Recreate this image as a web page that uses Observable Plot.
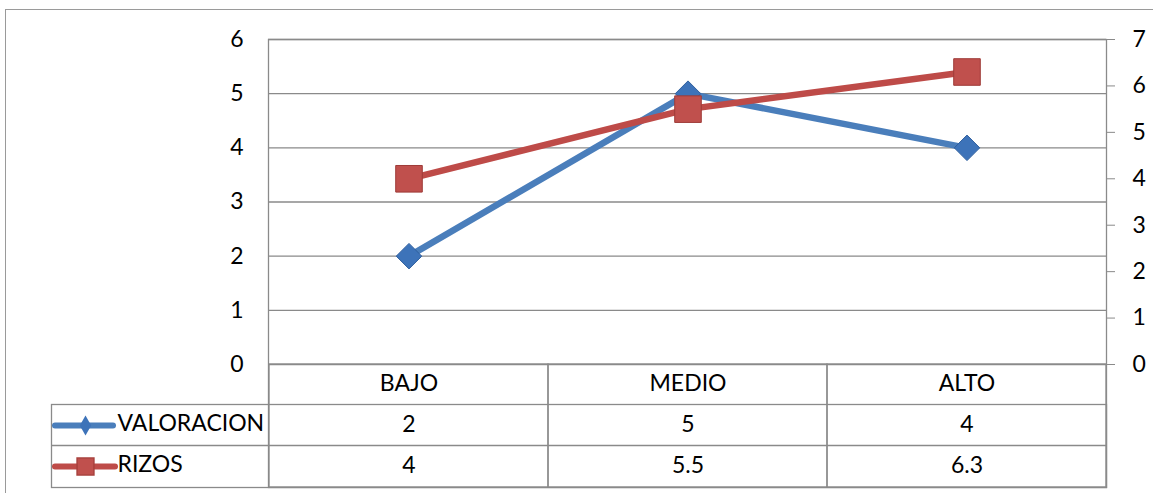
<!DOCTYPE html>
<html><head><meta charset="utf-8">
<script src="https://cdn.jsdelivr.net/npm/d3@7"></script>
<script src="https://cdn.jsdelivr.net/npm/@observablehq/plot@0.6"></script>
<style>body{margin:0;background:#fff}</style>
</head><body><div id="chart"></div>
<script>
const categories = ["BAJO", "MEDIO", "ALTO"];
const valoracion = [2, 5, 4];
const rizos = [4, 5.5, 6.3];
const valoracionLabels = ["2", "5", "4"];
const rizosLabels = ["4", "5.5", "6.3"];
const leftTicks = [0, 1, 2, 3, 4, 5, 6];
const rightTicks = [0, 1, 2, 3, 4, 5, 6, 7];
const seriesNames = ["VALORACION", "RIZOS"];

const leftMax = 6, rightMax = 7, k = leftMax / rightMax;
const blue = "#4A7EBB", red = "#BE4B48", grid = "#8a8a8a";
const font = "Lato, 'Open Sans', sans-serif";
const fs = 23;

const valData = categories.map((c, i) => ({cat: c, v: valoracion[i], label: valoracionLabels[i]}));
const rizData = categories.map((c, i) => ({cat: c, v: rizos[i], label: rizosLabels[i]}));

const chart = Plot.plot({
  width: 1153, height: 493,
  marginLeft: 268, marginRight: 47, marginTop: 39, marginBottom: 129,
  style: {fontFamily: font, fontSize: fs + "px", color: "#000", background: "#fff"},
  x: {type: "band", domain: categories, padding: 0, axis: null, label: null},
  y: {domain: [0, leftMax], axis: null, label: null},
  marks: [
    // outer chart border (left & top visible)
    Plot.frame({stroke: "#9a9a9a", insetLeft: -263, insetTop: -30, insetRight: -60, insetBottom: -140}),
    // gridlines
    Plot.ruleY(leftTicks, {stroke: grid, strokeWidth: 1.3}),
    // plot area + table frame
    Plot.frame({stroke: grid, strokeWidth: 1.3, insetBottom: -123}),
    Plot.frame({stroke: grid, strokeWidth: 1.3, insetLeft: -217, insetTop: 365, insetBottom: -123}),
    Plot.cell(categories, {x: d => d, fill: "none", stroke: grid, strokeWidth: 1.3, insetTop: 325, insetBottom: -123}),
    Plot.ruleY([0], {dy: 81, insetLeft: -217, stroke: grid, strokeWidth: 1.3}),
    // axes
    Plot.axisY({anchor: "left", ticks: leftTicks, tickSize: 0, tickPadding: 25, fontSize: fs, label: null, tickFormat: d => String(d)}),
    Plot.axisY({anchor: "right", ticks: rightTicks.map(t => t * k), tickSize: 8, tickPadding: 18, fontSize: fs, stroke: grid, label: null,
      tickFormat: d => String(Math.round(d / k))}),
    // series lines
    Plot.line(valData, {x: "cat", y: "v", stroke: blue, strokeWidth: 6.5, strokeLinejoin: "round", strokeLinecap: "round"}),
    Plot.line(rizData, {x: "cat", y: d => d.v * k, stroke: red, strokeWidth: 6.5, strokeLinejoin: "round", strokeLinecap: "round"}),
    Plot.dot(valData, {x: "cat", y: "v", symbol: "diamond2", r: 11.5, fill: "#3D73B9", stroke: "#2F5F9E", strokeWidth: 1}),
    Plot.dot(rizData, {x: "cat", y: d => d.v * k, symbol: "square", r: 15, fill: "#C0504D", stroke: "#9E3B38", strokeWidth: 1}),
    // table header & values
    Plot.text(categories, {x: d => d, text: d => d, frameAnchor: "bottom", dy: 26, fontSize: fs}),
    Plot.text(valData, {x: "cat", text: "label", frameAnchor: "bottom", dy: 67, fontSize: fs}),
    Plot.text(rizData, {x: "cat", text: "label", frameAnchor: "bottom", dy: 108, fontSize: fs}),
    // legend keys in table
    Plot.ruleY([0], {dy: 61, insetLeft: -213, insetRight: 993, stroke: blue, strokeWidth: 6, strokeLinecap: "round"}),
    Plot.dot([seriesNames[0]], {frameAnchor: "bottom-left", dx: -183, dy: 61, symbol: "diamond", r: 6, fill: "#3D73B9"}),
    Plot.ruleY([0], {dy: 102, insetLeft: -213, insetRight: 991, stroke: red, strokeWidth: 6, strokeLinecap: "round"}),
    Plot.dot([seriesNames[1]], {frameAnchor: "bottom-left", dx: -183, dy: 102, symbol: "square", r: 9.5, fill: "#C0504D", stroke: "#A8403D"}),
    Plot.text([seriesNames[0]], {text: d => d, frameAnchor: "bottom-left", dx: -151, dy: 66, textAnchor: "start", fontSize: fs}),
    Plot.text([seriesNames[1]], {text: d => d, frameAnchor: "bottom-left", dx: -151, dy: 107, textAnchor: "start", fontSize: fs})
  ]
});
document.getElementById("chart").append(chart);
</script>
</body></html>
